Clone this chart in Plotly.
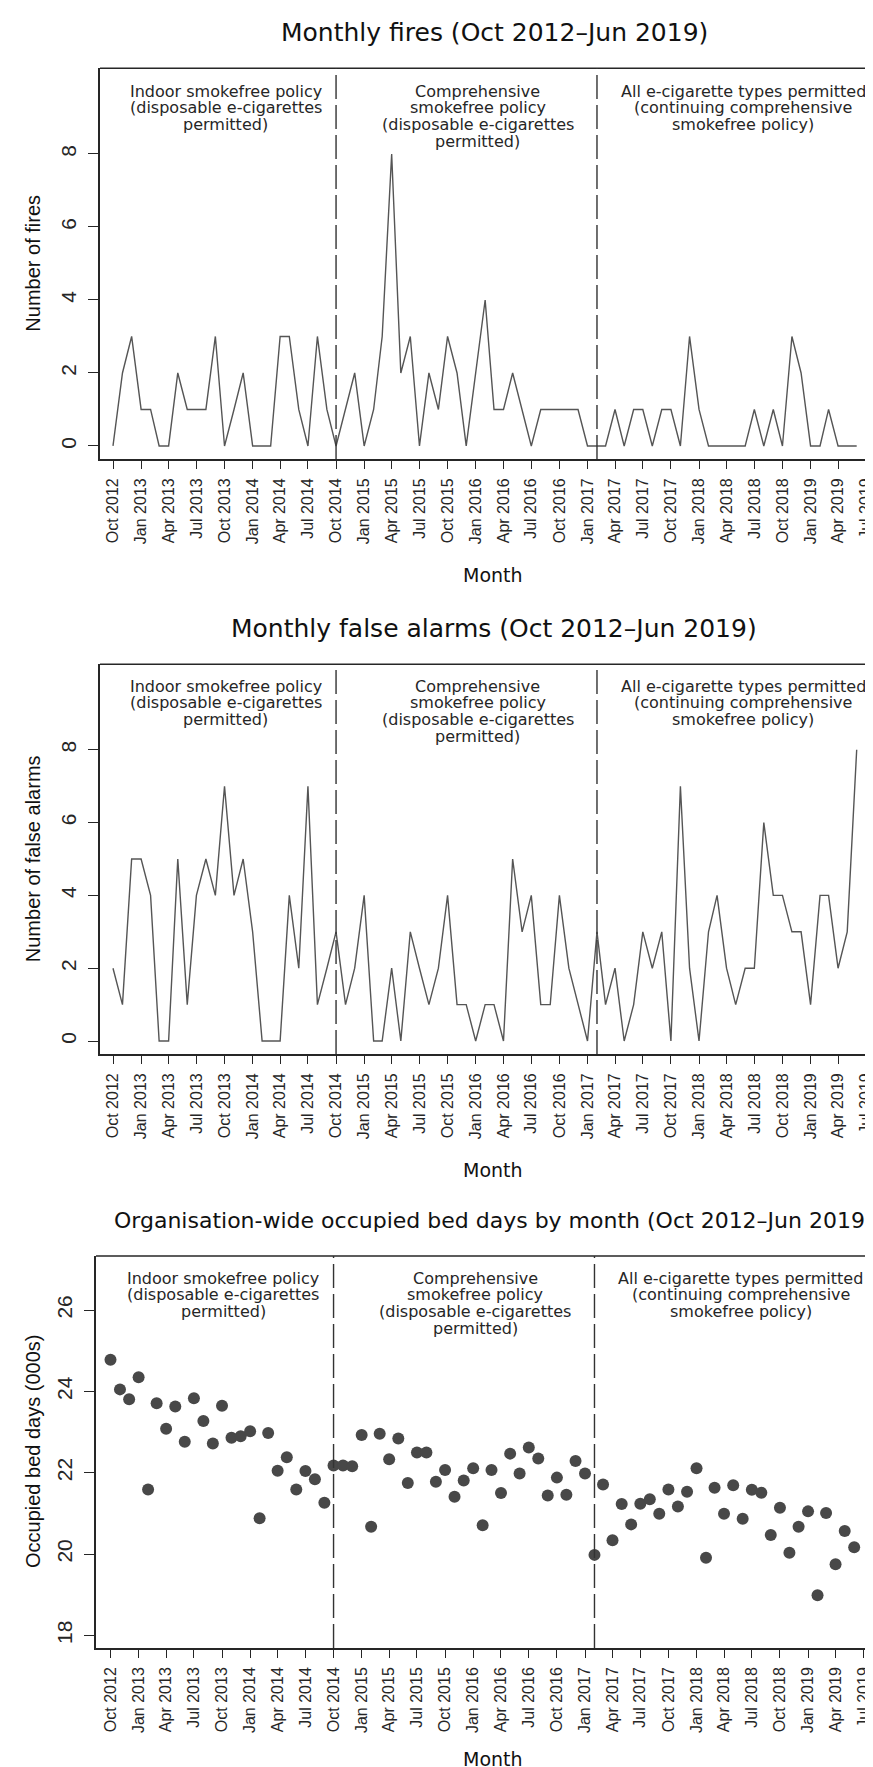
import pandas as pd
import plotly.graph_objects as go

W, H = 873, 1767

# ---------------- data ----------------
months = pd.date_range("2012-10-01", "2019-06-01", freq="MS")  # 81 months

fires = [0, 2, 3, 1, 1, 0, 0, 2, 1, 1, 1, 3,
         0, 1, 2, 0, 0, 0, 3, 3, 1, 0, 3, 1,
         0, 1, 2, 0, 1, 3, 8, 2, 3, 0, 2, 1,
         3, 2, 0, 2, 4, 1, 1, 2, 1, 0, 1, 1,
         1, 1, 1, 0, 0, 0, 1, 0, 1, 1, 0, 1,
         1, 0, 3, 1, 0, 0, 0, 0, 0, 1, 0, 1,
         0, 3, 2, 0, 0, 1, 0, 0, 0]

false_alarms = [2, 1, 5, 5, 4, 0, 0, 5, 1, 4, 5, 4,
                7, 4, 5, 3, 0, 0, 0, 4, 2, 7, 1, 2,
                3, 1, 2, 4, 0, 0, 2, 0, 3, 2, 1, 2,
                4, 1, 1, 0, 1, 1, 0, 5, 3, 4, 1, 1,
                4, 2, 1, 0, 3, 1, 2, 0, 1, 3, 2, 3,
                0, 7, 2, 0, 3, 4, 2, 1, 2, 2, 6, 4,
                4, 3, 3, 1, 4, 4, 2, 3, 8]

bed_days = [24.78, 24.05, 23.81, 24.35, 21.59, 23.71, 23.08, 23.63, 22.76, 23.83, 23.27, 22.72,
            23.65, 22.86, 22.90, 23.02, 20.88, 22.98, 22.05, 22.38, 21.59, 22.04, 21.84, 21.26,
            22.18, 22.18, 22.16, 22.93, 20.67, 22.96, 22.33, 22.84, 21.75, 22.50, 22.50, 21.78,
            22.07, 21.41, 21.81, 22.11, 20.71, 22.07, 21.50, 22.47, 21.98, 22.62, 22.35, 21.44,
            21.88, 21.46, 22.29, 21.98, 19.98, 21.71, 20.34, 21.23, 20.73, 21.24, 21.35, 20.99,
            21.59, 21.17, 21.53, 22.11, 19.91, 21.63, 20.99, 21.69, 20.87, 21.58, 21.51, 20.47,
            21.14, 20.03, 20.67, 21.05, 18.99, 21.01, 19.75, 20.57, 20.17]

tick_dates = pd.date_range("2012-10-01", "2019-07-01", freq="3MS")
tick_text = [d.strftime("%b %Y") for d in tick_dates]

policy_dates = ["2014-10-01", "2017-02-01"]

period_text = [
    ["Indoor smokefree policy", "(disposable e-cigarettes", "permitted)"],
    ["Comprehensive", "smokefree policy", "(disposable e-cigarettes", "permitted)"],
    ["All e-cigarette types permitted", "(continuing comprehensive", "smokefree policy)"],
]
period_centre_months = [12.1, 39.2, 67.75]

titles = ["Monthly fires (Oct 2012\u2013Jun 2019)",
          "Monthly false alarms (Oct 2012\u2013Jun 2019)",
          "Organisation-wide occupied bed days by month (Oct 2012\u2013Jun 2019)"]
ylabels = ["Number of fires", "Number of false alarms", "Occupied bed days (000s)"]
xlabel = "Month"

y_ticks = [[0, 2, 4, 6, 8], [0, 2, 4, 6, 8], [18, 20, 22, 24, 26]]

# ---------------- layout geometry (pixels) ----------------
base = pd.Timestamp("2012-10-01")


def mdate(m):
    return base + pd.Timedelta(days=m * 30.4375)


panels = [
    dict(sfx="", top=60.2, bot=451.1, left=92, m0=105, step=9.3, yr=[-0.36, 10.35],
         title_y=24, title_size=25, month_y=567, text_top=61),
    dict(sfx="2", top=656.3, bot=1046.1, left=92, m0=105, step=9.3, yr=[-0.36, 10.35],
         title_y=620, title_size=25, month_y=1162, text_top=656),
    dict(sfx="3", top=1248, bot=1640, left=88, m0=102.5, step=9.3, yr=[17.69, 27.33],
         title_y=1212, title_size=22, month_y=1751, text_top=1248),
]

INK = "#262626"
LINE = "#555555"
DOT = "#484848"

fig = go.Figure()

series = [fires, false_alarms, bed_days]
for i, p in enumerate(panels):
    xa = "x" + p["sfx"]
    ya = "y" + p["sfx"]
    if i < 2:
        fig.add_trace(go.Scatter(x=months, y=series[i], mode="lines",
                                 line=dict(color=LINE, width=1.4),
                                 xaxis=xa, yaxis=ya, showlegend=False))
    else:
        fig.add_trace(go.Scatter(x=months, y=series[i], mode="markers",
                                 marker=dict(color=DOT, size=12, line=dict(width=0)),
                                 xaxis=xa, yaxis=ya, showlegend=False))

layout = dict(width=W, height=H, margin=dict(l=0, r=0, t=0, b=0),
              paper_bgcolor="white", plot_bgcolor="white", showlegend=False)

shapes = []
annotations = []
for i, p in enumerate(panels):
    xk = "xaxis" + p["sfx"]
    yk = "yaxis" + p["sfx"]
    xa = "x" + p["sfx"]
    ya = "y" + p["sfx"]
    x_lo = mdate((p["left"] - p["m0"]) / p["step"])
    x_hi = mdate((W - p["m0"]) / p["step"])
    layout[xk] = dict(domain=[p["left"] / W, 1.0], anchor=ya, type="date",
                      range=[x_lo, x_hi], tickmode="array", tickvals=list(tick_dates),
                      ticktext=tick_text, tickangle=-90, ticks="outside", ticklen=8,
                      tickwidth=1.3, tickcolor=INK, showline=True, linecolor=INK,
                      linewidth=1.6, showgrid=False, zeroline=False,
                      tickfont=dict(family="Liberation Sans", size=16, color=INK),
                      ticklabelstandoff=3, ticklabeloverflow="allow")
    layout[yk] = dict(domain=[1 - p["bot"] / H, 1 - p["top"] / H], anchor=xa,
                      range=p["yr"], tickmode="array", tickvals=y_ticks[i],
                      tickangle=-90, ticks="outside", ticklen=10, tickwidth=1.3,
                      tickcolor=INK, showline=True, linecolor=INK, linewidth=1.6,
                      showgrid=False, zeroline=False,
                      tickfont=dict(family="Liberation Sans", size=21, color=INK),
                      ticklabelstandoff=4)
    # top border of the box
    shapes.append(dict(type="line", xref="paper", yref="paper",
                       x0=p["left"] / W, x1=1.0, y0=1 - p["top"] / H, y1=1 - p["top"] / H,
                       line=dict(color=INK, width=1.6)))
    # policy change lines
    for d in policy_dates:
        shapes.append(dict(type="line", xref=xa, yref=ya + " domain", x0=d, x1=d,
                           y0=0, y1=1, line=dict(color="#333333", width=1.4,
                                                 dash="24px,6px")))
    # period descriptions
    for k, lines in enumerate(period_text):
        for j, t in enumerate(lines):
            ypx = p["text_top"] + 22 + 16.8 * j
            annotations.append(dict(text=t, xref=xa, yref="paper",
                                    x=mdate(period_centre_months[k]), y=1 - ypx / H,
                                    xanchor="center", yanchor="middle", showarrow=False,
                                    font=dict(family="DejaVu Sans", size=16, color=INK)))
    # panel title
    annotations.append(dict(text=titles[i], xref="paper", yref="paper",
                            x=486 / W, y=1 - p["title_y"] / H, xanchor="center",
                            yanchor="middle", showarrow=False,
                            font=dict(family="DejaVu Sans", size=p["title_size"],
                                      color="#111111")))
    # x label
    annotations.append(dict(text=xlabel, xref="paper", yref="paper",
                            x=485 / W, y=1 - p["month_y"] / H, xanchor="center",
                            yanchor="middle", showarrow=False,
                            font=dict(family="DejaVu Sans", size=19, color="#111111")))
    # y label
    annotations.append(dict(text=ylabels[i], xref="paper", yref="paper",
                            x=25 / W, y=1 - (p["top"] + p["bot"]) / 2 / H,
                            xanchor="center", yanchor="middle", textangle=-90,
                            showarrow=False,
                            font=dict(family="Liberation Sans", size=20, color="#111111")))

layout["shapes"] = shapes
layout["annotations"] = annotations
fig.update_layout(**layout)

fig.write_html("out.html")
